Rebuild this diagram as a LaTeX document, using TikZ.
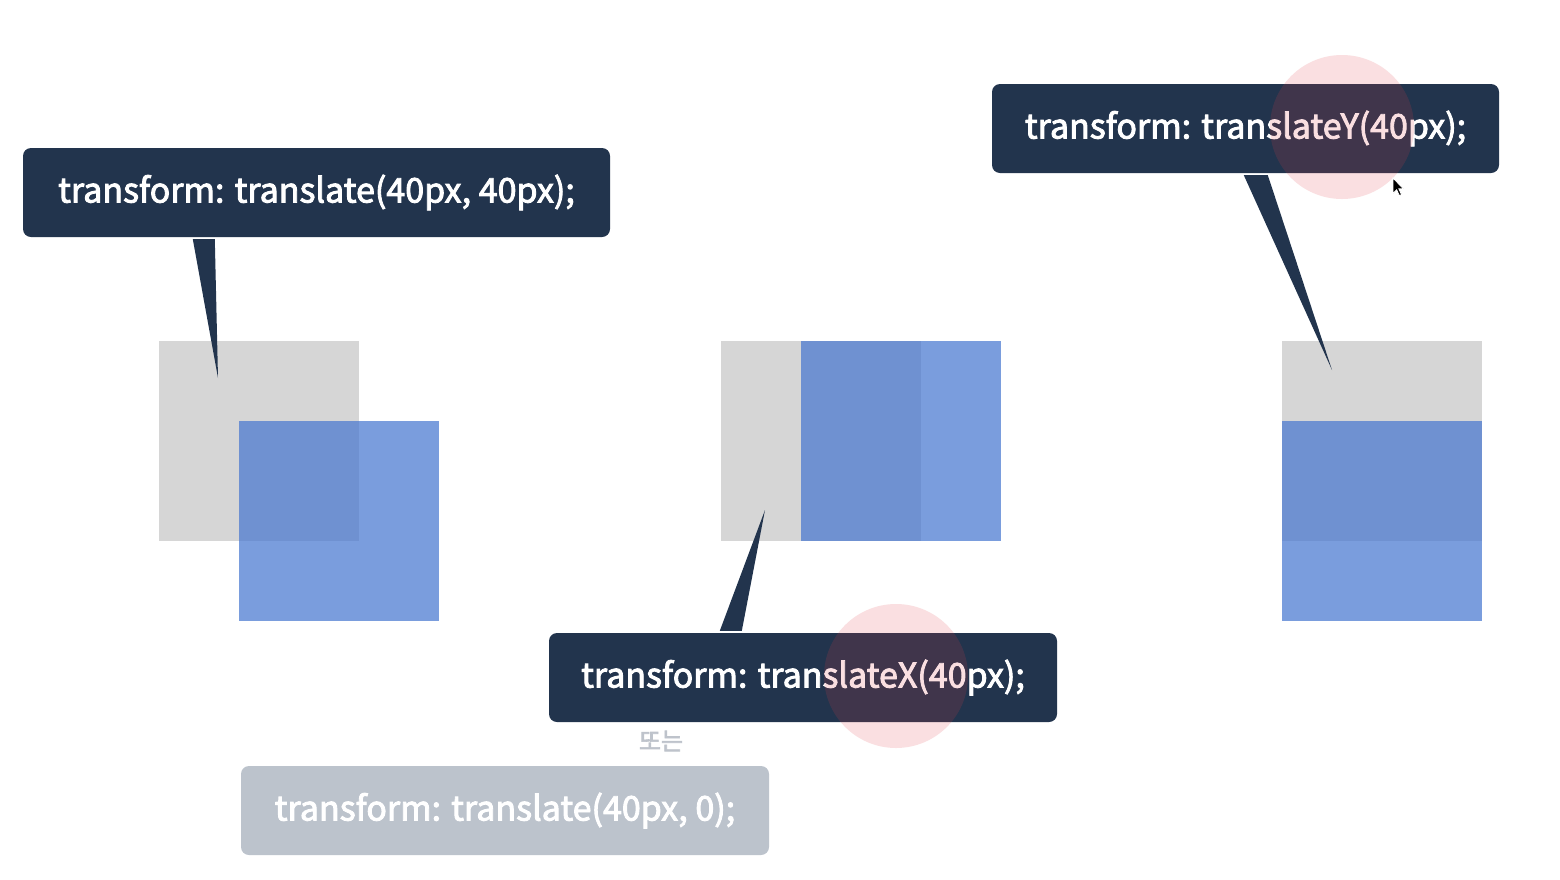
\documentclass[tikz,border=0pt]{standalone}
\usepackage{fontspec}
\setmainfont{Noto Sans CJK KR}
\newfontfamily\codefont{Noto Sans CJK KR}[FakeBold=2.6]
\definecolor{navy}{RGB}{34,52,77}
\definecolor{sqgray}{RGB}{214,214,214}
\definecolor{sqblue}{RGB}{69,118,208}
\definecolor{softbox}{RGB}{188,195,204}
\definecolor{ortext}{RGB}{190,195,203}
\definecolor{pinkdot}{RGB}{225,60,70}
\tikzset{
  codebox/.style={fill=navy, rounded corners=8pt, text=white, inner sep=0pt,
    minimum height=89pt, font=\codefont\fontsize{34}{40}\selectfont},
  altbox/.style={codebox, fill=softbox},
  graysq/.style={fill=sqgray},
  bluesq/.style={fill=sqblue, fill opacity=0.71},
  tail/.style={fill=navy},
  highlight/.style={fill=pinkdot, fill opacity=0.16},
}
\begin{document}
\begin{tikzpicture}[x=1pt,y=-1pt]
\useasboundingbox (0,0) rectangle (1560,879);
\fill[white] (0,0) rectangle (1560,879);

% panel 1
\fill[graysq] (159,341) rectangle (359,541);
\fill[bluesq] (239,421) rectangle (439,621);
% panel 2
\fill[graysq] (721,341) rectangle (921,541);
\fill[bluesq] (801,341) rectangle (1001,541);
% panel 3
\fill[graysq] (1282,341) rectangle (1482,541);
\fill[bluesq] (1282,421) rectangle (1482,621);

% boxes
\node[codebox, minimum width=587pt] (b1) at (316.5,192.5) {transform: translate(40px, 40px);};
\node[codebox, minimum width=508pt] (b2) at (803,677.5) {transform: translateX(40px);};
\node[altbox, minimum width=528pt] (b3) at (505,810.5) {transform: translate(40px, 0);};
\node[codebox, minimum width=507pt] (b4) at (1245.5,128.5) {transform: translateY(40px);};
\node[text=ortext, font=\codefont\fontsize{24}{28}\selectfont, inner sep=0pt] (or) at (661,741) {또는};

% tails
\coordinate (t1) at (218,378);
\coordinate (t2) at (765,510);
\coordinate (t4) at (1332,370);
\fill[tail] ([xshift=170pt,yshift=-2pt]b1.south west) -- (t1) -- ([xshift=192pt,yshift=-2pt]b1.south west) -- cycle;
\fill[tail] ([xshift=171pt,yshift=2pt]b2.north west) -- (t2) -- ([xshift=193pt,yshift=2pt]b2.north west) -- cycle;
\fill[tail] ([xshift=252pt,yshift=-2pt]b4.south west) -- (t4) -- ([xshift=276pt,yshift=-2pt]b4.south west) -- cycle;

% highlights
\fill[highlight] (896,676) circle (72);
\fill[highlight] (1342,127) circle (72);

% cursor
\coordinate (cur) at (1393,178);
\fill[black, draw=white, line width=0.8pt, shift={(cur)}, scale=0.9]
  (0,0) -- (0,17) -- (4,13) -- (7,19.5) -- (9.5,18.5) -- (6.5,12) -- (11.5,12) -- cycle;
\end{tikzpicture}
\end{document}
